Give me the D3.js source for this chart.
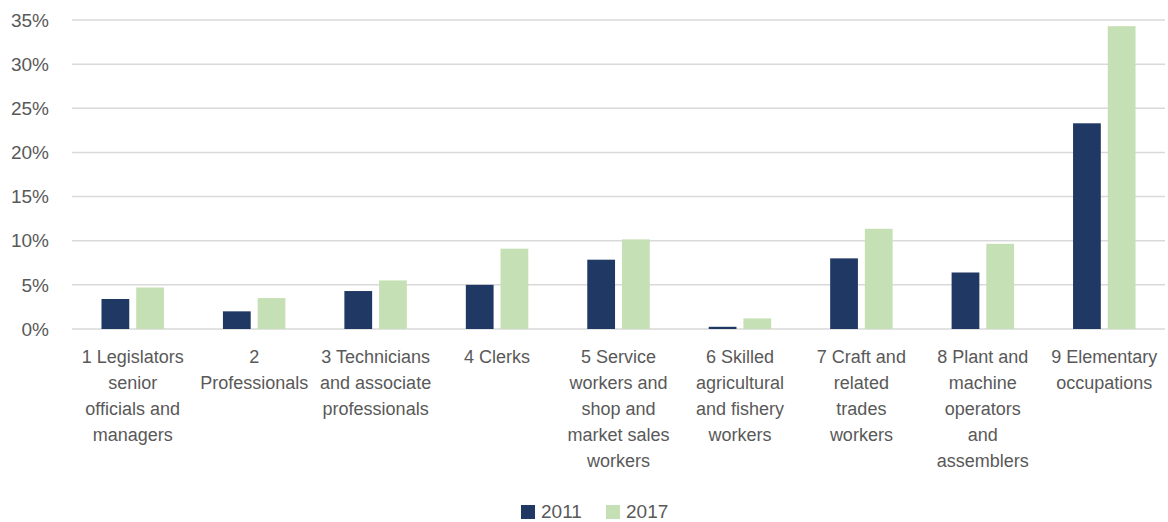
<!doctype html>
<html>
<head>
<meta charset="utf-8">
<script src="https://cdn.jsdelivr.net/npm/d3@7/dist/d3.min.js"></script>
<style>
  body { margin: 0; background: #fff; }
  text { font-family: "Liberation Sans", Arial, sans-serif; fill: #595959; }
</style>
</head>
<body>
<script>
var width = 1168, height = 522;

// data
var categories = ["c1", "c2", "c3", "c4", "c5", "c6", "c7", "c8", "c9"];
var categoryLabels = [
  ["1 Legislators", "senior", "officials and", "managers"],
  ["2", "Professionals"],
  ["3 Technicians", "and associate", "professionals"],
  ["4 Clerks"],
  ["5 Service", "workers and", "shop and", "market sales", "workers"],
  ["6 Skilled", "agricultural", "and fishery", "workers"],
  ["7 Craft and", "related", "trades", "workers"],
  ["8 Plant and", "machine", "operators", "and", "assemblers"],
  ["9 Elementary", "occupations"]
];
var seriesNames = ["2011", "2017"];
var values2011 = [3.4, 2.0, 4.3, 5.0, 7.85, 0.25, 8.0, 6.4, 23.3];
var values2017 = [4.7, 3.5, 5.5, 9.1, 10.15, 1.2, 11.35, 9.65, 34.3];
var yTicks = [0, 5, 10, 15, 20, 25, 30, 35];
var colors = ["#1f3864", "#c5e0b4"];

var margin = {left: 72, right: 3, top: 20, bottom: 193};

var svg = d3.select("body").append("svg")
  .attr("width", width)
  .attr("height", height);

var x = d3.scaleBand()
  .domain(categories)
  .range([margin.left, width - margin.right]);

var x1 = d3.scaleBand()
  .domain(seriesNames)
  .range([0, x.bandwidth()])
  .paddingInner(0.2)
  .paddingOuter(0.85);

var y = d3.scaleLinear()
  .domain([0, 35])
  .range([height - margin.bottom, margin.top]);

// gridlines
svg.append("g")
  .selectAll("line")
  .data(yTicks)
  .enter().append("line")
  .attr("x1", margin.left)
  .attr("x2", width - margin.right)
  .attr("y1", function(d) { return y(d); })
  .attr("y2", function(d) { return y(d); })
  .attr("stroke", "#d9d9d9")
  .attr("stroke-width", 1.5);

// y labels
svg.append("g")
  .selectAll("text")
  .data(yTicks)
  .enter().append("text")
  .attr("x", 49)
  .attr("y", function(d) { return y(d); })
  .attr("dy", "0.35em")
  .attr("text-anchor", "end")
  .style("font-size", "19px")
  .text(function(d) { return d + "%"; });

// bars
var series = [values2011, values2017];
seriesNames.forEach(function(name, s) {
  svg.append("g")
    .selectAll("rect")
    .data(categories)
    .enter().append("rect")
    .attr("x", function(d) { return x(d) + x1(name); })
    .attr("y", function(d, i) { return y(series[s][i]); })
    .attr("width", x1.bandwidth())
    .attr("height", function(d, i) { return y(0) - y(series[s][i]); })
    .attr("fill", colors[s]);
});

// category labels
var lab = svg.append("g")
  .selectAll("text")
  .data(categories)
  .enter().append("text")
  .attr("text-anchor", "middle")
  .style("font-size", "18px");

lab.each(function(d, i) {
  var t = d3.select(this);
  categoryLabels[i].forEach(function(line, j) {
    t.append("tspan")
      .attr("x", x(d) + x.bandwidth() / 2)
      .attr("y", 363 + j * 26)
      .text(line);
  });
});

// legend
var legend = svg.append("g");
var legendX = [521, 606];
seriesNames.forEach(function(name, s) {
  legend.append("rect")
    .attr("x", legendX[s])
    .attr("y", 505)
    .attr("width", 14)
    .attr("height", 14)
    .attr("fill", colors[s]);
  legend.append("text")
    .attr("x", legendX[s] + 20)
    .attr("y", 511)
    .attr("dy", "0.35em")
    .style("font-size", "19px")
    .text(name);
});
</script>
</body>
</html>
